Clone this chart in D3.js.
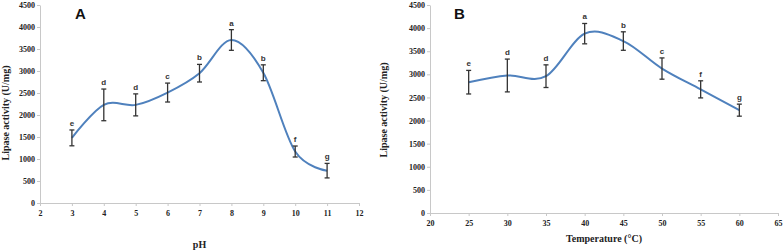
<!DOCTYPE html>
<html>
<head>
<meta charset="utf-8">
<script src="https://cdn.jsdelivr.net/npm/d3@7"></script>
<style>
  body { margin: 0; background: #fff; }
  .tick text { font-family: "Liberation Serif", "Times New Roman", serif; font-weight: bold; font-size: 8px; fill: #222; }
  .axis path, .axis line { stroke: #c8c8c8; }
</style>
</head>
<body>
<script>
// ---- data ----
var phX = [3, 4, 5, 6, 7, 8, 9, 10, 11];
var phMean = [1480, 2230, 2230, 2510, 2950, 3705, 2960, 1170, 735];
var phErr = [180, 360, 250, 215, 200, 235, 180, 125, 165];
var phLetters = ["e", "d", "d", "c", "b", "a", "b", "f", "g"];

var tempX = [25, 30, 35, 40, 45, 50, 55, 60];
var tempMean = [2830, 2975, 2960, 3880, 3720, 3125, 2675, 2225];
var tempErr = [255, 355, 245, 220, 200, 230, 185, 130];
var tempLetters = ["e", "d", "d", "a", "b", "c", "f", "g"];

var yTicks = [0, 500, 1000, 1500, 2000, 2500, 3000, 3500, 4000, 4500];

var svg = d3.select("body").append("svg")
    .attr("width", 783)
    .attr("height", 250);

function drawPanel(opt) {
    var x = d3.scaleLinear().domain(opt.xDomain).range([opt.left, opt.right]);
    var y = d3.scaleLinear().domain([0, 4500]).range([opt.bottom, opt.top]);
    var g = svg.append("g");

    g.append("g")
        .attr("class", "axis")
        .attr("transform", "translate(0," + opt.bottom + ")")
        .call(d3.axisBottom(x).tickValues(opt.xTicks).tickFormat(d3.format("d"))
            .tickSize(3).tickSizeOuter(0).tickPadding(4));
    g.append("g")
        .attr("class", "axis")
        .attr("transform", "translate(" + opt.left + ",0)")
        .call(d3.axisLeft(y).tickValues(yTicks).tickFormat(d3.format("d"))
            .tickSize(3).tickSizeOuter(0).tickPadding(2));

    var pts = opt.xs.map(function (d, i) { return [d, opt.mean[i]]; });
    g.append("path")
        .datum(pts)
        .attr("fill", "none")
        .attr("stroke", "#4f81bd")
        .attr("stroke-width", 2)
        .attr("d", d3.line()
            .x(function (d) { return x(d[0]); })
            .y(function (d) { return y(d[1]); })
            .curve(d3.curveCardinal.tension(0)));

    // error bars
    opt.xs.forEach(function (d, i) {
        var cx = x(d), hi = y(opt.mean[i] + opt.err[i]), lo = y(opt.mean[i] - opt.err[i]);
        g.append("line").attr("x1", cx).attr("x2", cx).attr("y1", hi).attr("y2", lo)
            .attr("stroke", "#333").attr("stroke-width", 1.3);
        g.append("line").attr("x1", cx - 2.5).attr("x2", cx + 2.5).attr("y1", hi).attr("y2", hi)
            .attr("stroke", "#333").attr("stroke-width", 1.3);
        g.append("line").attr("x1", cx - 2.5).attr("x2", cx + 2.5).attr("y1", lo).attr("y2", lo)
            .attr("stroke", "#333").attr("stroke-width", 1.3);
        g.append("text")
            .attr("x", cx)
            .attr("y", hi - 4)
            .attr("text-anchor", "middle")
            .attr("font-family", "Liberation Sans, Arial, sans-serif")
            .attr("font-weight", "bold")
            .attr("font-size", "8px")
            .attr("fill", "#333")
            .text(opt.letters[i]);
    });

    // panel letter
    g.append("text")
        .attr("x", opt.tagX)
        .attr("y", 19)
        .attr("font-family", "Liberation Sans, Arial, sans-serif")
        .attr("font-weight", "bold")
        .attr("font-size", "15px")
        .attr("fill", "#111")
        .text(opt.tag);

    // axis titles
    g.append("text")
        .attr("x", (opt.left + opt.right) / 2)
        .attr("y", opt.xTitleY)
        .attr("text-anchor", "middle")
        .attr("font-family", "Liberation Serif, Times New Roman, serif")
        .attr("font-weight", "bold")
        .attr("font-size", "10px")
        .attr("fill", "#222")
        .text(opt.xTitle);
    g.append("text")
        .attr("transform", "translate(" + opt.yTitleX + "," + opt.yTitleY + ") rotate(-90)")
        .attr("text-anchor", "middle")
        .attr("font-family", "Liberation Serif, Times New Roman, serif")
        .attr("font-weight", "bold")
        .attr("font-size", "10px")
        .attr("fill", "#222")
        .text("Lipase activity (U/mg)");
}

drawPanel({
    xDomain: [2, 12], xTicks: d3.range(2, 13),
    left: 40, right: 359, top: 5, bottom: 203,
    xs: phX, mean: phMean, err: phErr, letters: phLetters,
    tag: "A", tagX: 75, xTitle: "pH", xTitleY: 248,
    yTitleX: 9, yTitleY: 113
});

drawPanel({
    xDomain: [20, 65], xTicks: d3.range(20, 66, 5),
    left: 430, right: 778, top: 5, bottom: 213,
    xs: tempX, mean: tempMean, err: tempErr, letters: tempLetters,
    tag: "B", tagX: 454, xTitle: "Temperature (\u00B0C)", xTitleY: 242,
    yTitleX: 387, yTitleY: 110
});
</script>
</body>
</html>
